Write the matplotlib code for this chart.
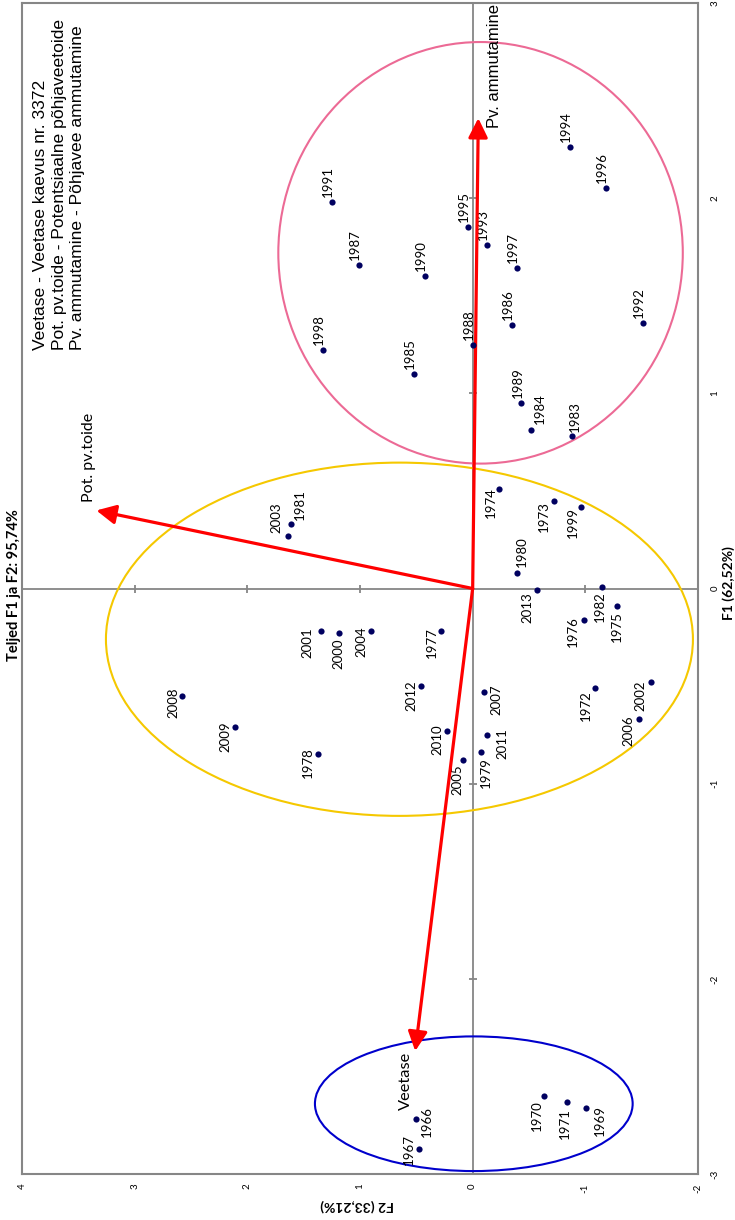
import matplotlib
matplotlib.use("Agg")
import matplotlib.pyplot as plt
from matplotlib.patches import Ellipse

# PCA scores (F1, F2) per year
years = [1966, 1967, 1969, 1970, 1971, 1972, 1973, 1974, 1975, 1976,
         1977, 1978, 1979, 1980, 1981, 1982, 1983, 1984, 1985, 1986,
         1987, 1988, 1989, 1990, 1991, 1992, 1993, 1994, 1995, 1996,
         1997, 1998, 1999, 2000, 2001, 2002, 2003, 2004, 2005, 2006,
         2007, 2008, 2009, 2010, 2011, 2012, 2013]
f1 = [-2.72, -2.87, -2.66, -2.60, -2.63, -0.51, 0.45, 0.51, -0.09, -0.16,
      -0.22, -0.85, -0.84, 0.08, 0.33, 0.01, 0.78, 0.81, 1.10, 1.35,
      1.66, 1.25, 0.95, 1.60, 1.98, 1.36, 1.76, 2.26, 1.85, 2.05,
      1.64, 1.22, 0.42, -0.23, -0.22, -0.48, 0.27, -0.22, -0.88, -0.67,
      -0.53, -0.55, -0.71, -0.73, -0.75, -0.50, -0.01]
f2 = [0.50, 0.48, -1.01, -0.63, -0.84, -1.09, -0.72, -0.23, -1.28, -0.99,
      0.28, 1.37, -0.07, -0.39, 1.61, -1.15, -0.88, -0.52, 0.52, -0.35,
      1.01, 0.00, -0.43, 0.42, 1.25, -1.51, -0.13, -0.86, 0.04, -1.18,
      -0.39, 1.33, -0.96, 1.19, 1.35, -1.58, 1.64, 0.90, 0.09, -1.48,
      -0.10, 2.58, 2.11, 0.23, -0.13, 0.46, -0.57]

# variable vectors
var_names = ["Veetase", "Pot. pv.toide", "Pv. ammutamine"]
var_f1 = [-2.37, 0.40, 2.41]
var_f2 = [0.51, 3.34, -0.05]

title = "Teljed F1 ja F2: 95,74%"
xlabel = "F1 (62,52%)"
ylabel = "F2 (33,21%)"
legend_lines = ["Veetase - Veetase kaevus nr. 3372",
                "Pot. pv.toide - Potentsiaalne põhjaveetoide",
                "Pv. ammutamine - Põhjavee ammutamine"]
f1_ticks = [-3, -2, -1, 0, 1, 2, 3]
f2_ticks = [-2, -1, 0, 1, 2, 3, 4]

# label placement (image px): dx, dy, va
lab_pos = {1966: (11, 13, "top"), 1967: (-10, 15, "top"), 1969: (13, 3, "top"),
           1970: (-7, -4, "top"), 1971: (-2, -6, "top"), 1972: (-10, -2, "top"),
           1973: (-10, 0, "top"), 1974: (-8, 2, "top"), 1975: (0, -5, "top"),
           1976: (-11, 4, "top"), 1977: (-9, 4, "top"), 1978: (-10, 7, "top"),
           1979: (5, -5, "top"), 1982: (-2, -5, "top"), 1999: (-8, 0, "top"),
           2000: (0, -5, "top"), 2001: (-13, 4, "top"), 2002: (-10, 2, "top"),
           2004: (-10, 5, "top"), 2005: (-5, -4, "top"), 2006: (-11, 4, "top"),
           2007: (13, 7, "top"), 2008: (-9, 8, "top"), 2009: (-10, 6, "top"),
           2010: (-9, 7, "top"), 2011: (15, 7, "top"), 2012: (-9, 6, "top"),
           2013: (-9, -2, "top"),
           1983: (3, 4, "bottom"), 1984: (9, 6, "bottom"), 1989: (-3, 5, "bottom"),
           1980: (5, 6, "bottom"), 1981: (9, 4, "bottom"), 2003: (-11, 3, "bottom")}

lab_font = "Lato"
grey = "#868686"

fig = plt.figure(figsize=(7.35, 12.2), dpi=100)
ax = fig.add_axes([22/735, 1-1174/1220, 676/735, 1171/1220])
ax.set_xlim(4, -2)
ax.set_ylim(-3, 3)

for s in ax.spines.values():
    s.set_color(grey)
    s.set_linewidth(1.5)

ax.set_xticks(f2_ticks)
ax.set_xticklabels([str(t) for t in f2_ticks], rotation=90, fontsize=7, family=lab_font)
ax.yaxis.tick_right()
ax.set_yticks(f1_ticks)
ax.set_yticklabels([str(t) for t in f1_ticks], rotation=90, fontsize=7, family=lab_font, va="center")
ax.tick_params(axis="x", length=0, pad=7)
ax.tick_params(axis="y", length=0, pad=9)

# zero axes with crossing ticks
ax.axhline(0, color=grey, lw=1.3, zorder=1)
ax.axvline(0, color=grey, lw=1.3, zorder=1)
tx = [t for t in f2_ticks if t not in (0, -2, 4)]
ty = [t for t in f1_ticks if t not in (0, -3, 3)]
ax.plot(tx, [0]*len(tx), ls="none", marker="|", ms=6, mew=1.3, color=grey, zorder=1)
ax.plot([0]*len(ty), ty, ls="none", marker="_", ms=6, mew=1.3, color=grey, zorder=1)

# group ellipses
ax.add_patch(Ellipse((-0.07, 1.72), 3.59, 2.16, fill=False, ec="#EC6A95", lw=1.5, zorder=2))
ax.add_patch(Ellipse((0.65, -0.26), 5.21, 1.81, fill=False, ec="#F5C800", lw=1.5, zorder=2))
ax.add_patch(Ellipse((-0.01, -2.64), 2.82, 0.69, fill=False, ec="#0000CC", lw=1.5, zorder=2))

# vectors
for n, a, b in zip(var_names, var_f1, var_f2):
    ax.annotate("", xy=(b, a), xytext=(0, 0),
                arrowprops=dict(arrowstyle="-|>,head_length=0.9,head_width=0.45",
                                color="#FF0000", lw=2.3, shrinkA=0, shrinkB=0,
                                mutation_scale=13), zorder=4)
ax.annotate(var_names[0], (var_f2[0], var_f1[0]), xytext=(-9, -1), textcoords="offset pixels",
            rotation=90, ha="center", va="top", fontsize=11.8, family=lab_font)
ax.annotate(var_names[1], (var_f2[1], var_f1[1]), xytext=(-7, 8), textcoords="offset pixels",
            rotation=90, ha="center", va="bottom", fontsize=11.5, family=lab_font)
ax.annotate(var_names[2], (var_f2[2], var_f1[2]), xytext=(16, -10), textcoords="offset pixels",
            rotation=90, ha="center", va="bottom", fontsize=12, family="Liberation Sans")

# observations
ax.scatter(f2, f1, s=20, color="#000060", zorder=5, linewidths=0)
for yr, a, b in zip(years, f1, f2):
    dx, dy, va = lab_pos.get(yr, (-4, 5, "bottom"))
    ax.annotate(str(yr), (b, a), xytext=(dx, dy), textcoords="offset pixels",
                rotation=90, ha="center", va=va, fontsize=9.5, family=lab_font)

ax.text(3.9, 1.22, "\n".join(legend_lines), rotation=90, ha="left", va="bottom",
        fontsize=12.6, family="Liberation Sans", linespacing=1.3, multialignment="left")

fig.text(14/735, 1-585/1220, title, rotation=90, ha="center", va="center",
         fontsize=10.5, fontweight="bold", family=lab_font)
fig.text(729/735, 1-583/1220, xlabel, rotation=90, ha="center", va="center",
         fontsize=10, fontweight="bold", family=lab_font)
fig.text(357/735, 1-1205/1220, ylabel, rotation=180, ha="center", va="center",
         fontsize=10, fontweight="bold", family=lab_font)

fig.savefig("out.png", dpi=100)
